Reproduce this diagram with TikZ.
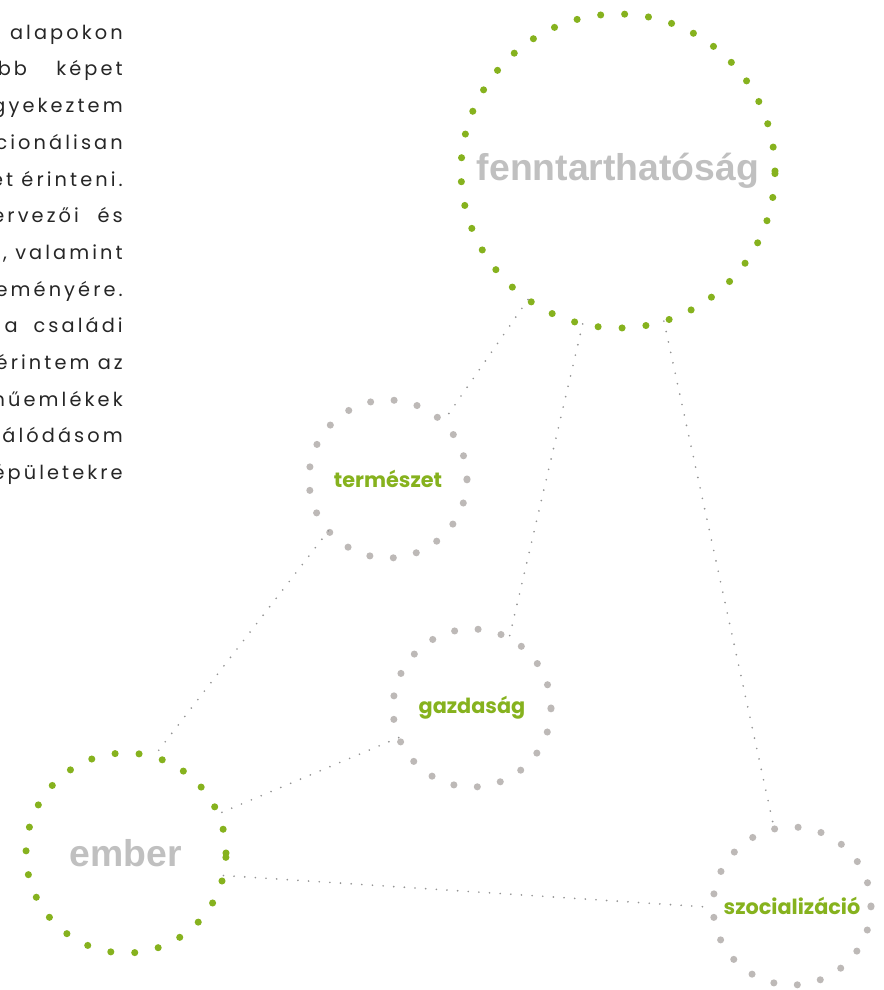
\documentclass[tikz,border=0pt]{standalone}
\usepackage{fontspec}
\setmainfont{Poppins}
\newfontfamily\labelfont{Liberation Sans}
\usetikzlibrary{positioning}
\definecolor{LeafGreen}{HTML}{86B21E}
\definecolor{PebbleGray}{HTML}{BDB9B7}
\definecolor{TitleGray}{HTML}{C0C0C0}
\definecolor{LinkGray}{HTML}{949494}
\definecolor{InkGray}{HTML}{262626}

\begin{document}
\begin{tikzpicture}[x=0.75pt, y=-0.75pt,
    ring/.style={circle, inner sep=0pt, outer sep=0pt, line width=5.3pt, line cap=round, dash pattern=on 0pt off 17.7pt},
    bigring/.style={ring, draw=LeafGreen, dash pattern=on 0pt off 18pt, font=\labelfont\bfseries\fontsize{28}{30}\selectfont, text=TitleGray},
    smallring/.style={ring, draw=PebbleGray, minimum size=118.5pt, font=\bfseries\fontsize{15.6}{17}\selectfont, text=LeafGreen},
    link/.style={draw=LinkGray, line width=1.4pt, line cap=round, dash pattern=on 0pt off 8pt},
    bodytext/.style={anchor=base east, inner sep=0pt, text=InkGray, font=\fontsize{14.5}{16}\selectfont\addfontfeature{LetterSpace=16}}
  ]
    \useasboundingbox[fill=white] (0,0) rectangle (883,990);

    % text column, cut at the left edge
    \foreach \ln [count=\i] in {alapokon, bb\hspace{22pt}képet, igyekeztem, funkcionálisan, témáket érinteni., tervezői\hspace{14pt}és, {, valamint}, véleményére., a\hspace{12pt}családi, érintem az, műemlékek, vizsgálódásom, épületekre}
      \node[bodytext] (line\i) at (123, 2.5+36.7*\i) {\ln};

    % circles
    \node[bigring, minimum size=235.5pt] (fenntart) at (618, 171) {fenntarthatóság};
    \node[bigring, minimum size=150pt] (ember) at (126, 853) {ember};
    \node[smallring] (termeszet) at (388, 479) {természet};
    \node[smallring] (gazdasag) at (472, 708) {gazdaság};
    \node[smallring] (szocial) at (792, 906) {szocializáció};

    % links
    \draw[link] (fenntart.235) -- (termeszet.46);
    \draw[link] (fenntart.257) -- (gazdasag.62);
    \draw[link] (fenntart.287) -- (szocial.103);
    \draw[link] (termeszet.221) -- (ember.74);
    \draw[link] (gazdasag.202) -- (ember.23);
    \draw[link] (ember.347) -- (szocial.181);
\end{tikzpicture}
\end{document}
